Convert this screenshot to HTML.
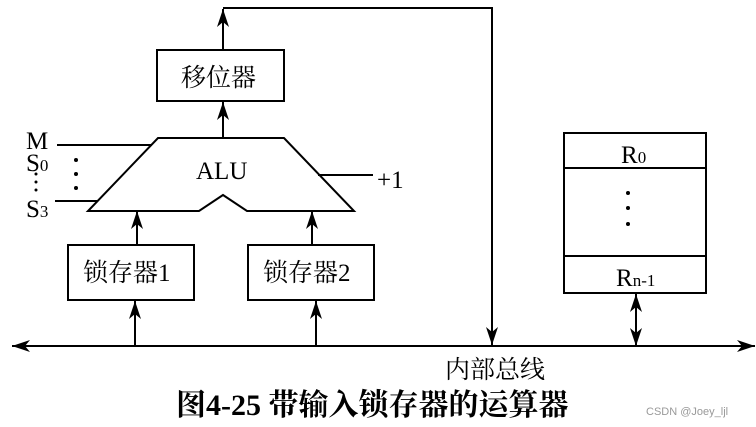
<!DOCTYPE html>
<html><head><meta charset="utf-8"><style>
body{margin:0;background:#fff;}
svg{display:block;font-family:"Liberation Serif","Noto Serif CJK SC",serif;}
</style></head><body>
<svg width="756" height="427" viewBox="0 0 756 427">
<defs>
<marker id="a" markerWidth="18" markerHeight="12" refX="18" refY="6" orient="auto" markerUnits="userSpaceOnUse">
<path d="M0,0 L18,6 L0,12 L5,6 Z" fill="#000"/></marker>
</defs>
<g stroke="#000" stroke-width="2" fill="none">
<polyline points="492,346 492,8 223,8" />
<line x1="223" y1="50" x2="223" y2="9" marker-end="url(#a)"/>
<line x1="492" y1="300" x2="492" y2="345" marker-end="url(#a)"/>
<rect x="157" y="50" width="127" height="51"/>
<line x1="223" y1="138" x2="223" y2="102" marker-end="url(#a)"/>
<polygon points="158,138 284,138 354,211 247,211 223,195 199,211 88,211"/>
<line x1="57" y1="145" x2="152" y2="145"/>
<line x1="55" y1="201" x2="97" y2="201"/>
<line x1="318" y1="175" x2="373" y2="175"/>
<rect x="68" y="245" width="126" height="55"/>
<rect x="248" y="245" width="126" height="55"/>
<line x1="137" y1="245" x2="137" y2="211" marker-end="url(#a)"/>
<line x1="312" y1="245" x2="312" y2="211" marker-end="url(#a)"/>
<line x1="135" y1="346" x2="135" y2="301" marker-end="url(#a)"/>
<line x1="316" y1="346" x2="316" y2="301" marker-end="url(#a)"/>
<line x1="385" y1="346" x2="755" y2="346" marker-end="url(#a)"/>
<line x1="385" y1="346" x2="12" y2="346" marker-end="url(#a)"/>
<rect x="564" y="133" width="142" height="160"/>
<line x1="564" y1="168" x2="706" y2="168"/>
<line x1="564" y1="256" x2="706" y2="256"/>
<line x1="636" y1="320" x2="636" y2="294" marker-end="url(#a)"/>
<line x1="636" y1="318" x2="636" y2="346" marker-end="url(#a)"/>
</g>
<g fill="#000">
<circle cx="76" cy="160" r="2"/><circle cx="76" cy="174" r="2"/><circle cx="76" cy="188" r="2"/>
<circle cx="36" cy="174" r="1.5"/><circle cx="36" cy="182" r="1.5"/><circle cx="36" cy="190" r="1.5"/>
<circle cx="628" cy="193" r="2"/><circle cx="628" cy="208" r="2"/><circle cx="628" cy="224" r="2"/>
</g>
<g font-size="25" fill="#000">
<text x="181" y="86">移位器</text>
<text x="196" y="179">ALU</text>
<text x="26" y="149">M</text>
<text x="26" y="171">S<tspan font-size="17">0</tspan></text>
<text x="26" y="217">S<tspan font-size="17">3</tspan></text>
<text x="377" y="188">+1</text>
<text x="83" y="281">锁存器1</text>
<text x="263" y="281">锁存器2</text>
<text x="621" y="163">R<tspan font-size="17">0</tspan></text>
<text x="616" y="286">R<tspan font-size="17">n-1</tspan></text>
<text x="445" y="378">内部总线</text>
<text x="176" y="415" font-weight="bold" font-size="30">图4-25 带输入锁存器的运算器</text>
</g>
<text x="646" y="415" font-family="Liberation Sans,sans-serif" font-size="11" fill="#999">CSDN @Joey_ljl</text>
</svg>
</body></html>
